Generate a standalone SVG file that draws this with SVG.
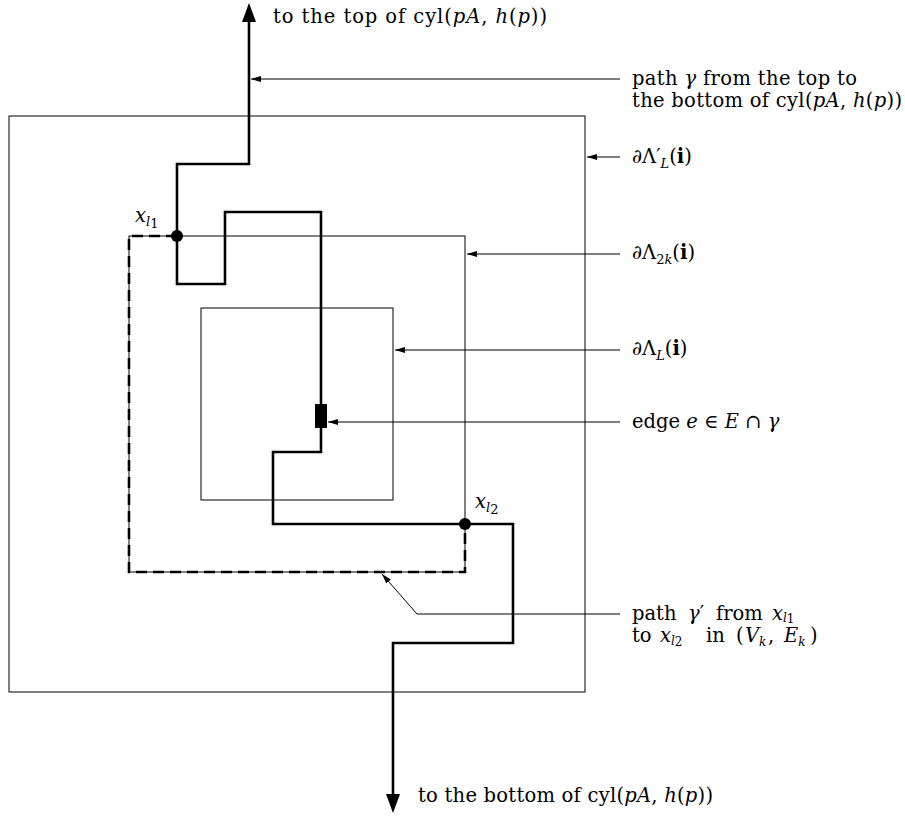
<svg xmlns="http://www.w3.org/2000/svg" width="905" height="817" viewBox="0 0 905 817">
<style>
.thin{fill:none;stroke:#000;stroke-width:1}
.thick{fill:none;stroke:#000;stroke-width:2.6;stroke-linejoin:miter}
.dash{fill:none;stroke:#000;stroke-width:2.6;stroke-dasharray:11 6}
.lead{fill:none;stroke:#000;stroke-width:1}
text{font-family:"DejaVu Serif","Liberation Serif",serif;font-size:19.5px;fill:#000}
.i{font-style:italic}
.b{font-weight:bold}
.s{font-size:13px}
.t{font-size:12px}
</style>
<defs>
<marker id="ah" viewBox="0 0 10 6" refX="10" refY="3" markerWidth="10" markerHeight="6" markerUnits="userSpaceOnUse" orient="auto">
<path d="M0,0 L10,3 L0,6 z" fill="#000"/>
</marker>
</defs>
<g id="box-outer"><rect class="thin" x="9" y="116" width="576" height="576"/></g>
<g id="box-2k"><rect class="thin" x="129" y="236" width="336" height="336"/></g>
<g id="box-inner"><rect class="thin" x="201" y="308" width="192" height="192"/></g>
<g id="connectors">
<path id="gamma" class="thick" d="M249,18 L249,164 L177,164 L177,284 L225,284 L225,212 L321,212 L321,452 L273,452 L273,524 L513,524 L513,643 L393,643 L393,798"/>
<path d="M242,22 L249,3 L256,22 z" fill="#000"/>
<path d="M386,794 L393,813 L400,794 z" fill="#000"/>
<path id="gamma-prime" class="dash" d="M177,236 L129,236 L129,572 L465,572 L465,524"/>
<line class="lead" x1="620" y1="79" x2="251" y2="79" marker-end="url(#ah)"/>
<line class="lead" x1="620" y1="157" x2="587" y2="157" marker-end="url(#ah)"/>
<line class="lead" x1="620" y1="254" x2="467" y2="254" marker-end="url(#ah)"/>
<line class="lead" x1="620" y1="350" x2="395" y2="350" marker-end="url(#ah)"/>
<line class="lead" x1="620" y1="422" x2="328" y2="422" marker-end="url(#ah)"/>
<polyline class="lead" points="620,614 417,614 382,574" marker-end="url(#ah)"/>
</g>
<g id="edge-e"><rect x="315" y="404" width="12" height="24" fill="#000"/></g>
<g id="x-l1"><circle cx="177" cy="236" r="6" fill="#000"/><text x="135" y="222"><tspan class="i">x</tspan><tspan class="i s" dy="4">l</tspan><tspan class="s" dy="2">1</tspan></text></g>
<g id="x-l2"><circle cx="465" cy="524" r="6" fill="#000"/><text x="475" y="508"><tspan class="i">x</tspan><tspan class="i s" dy="4">l</tspan><tspan class="s" dy="2">2</tspan></text></g>
<g id="labels">
<text x="273" y="23" textLength="274" lengthAdjust="spacing">to the top of cyl(<tspan class="i">pA</tspan>, <tspan class="i">h</tspan>(<tspan class="i">p</tspan>))</text>
<text x="632" y="85" textLength="225" lengthAdjust="spacing">path <tspan class="i">γ</tspan> from the top to</text>
<text x="632" y="107" textLength="270" lengthAdjust="spacing">the bottom of cyl(<tspan class="i">pA</tspan>, <tspan class="i">h</tspan>(<tspan class="i">p</tspan>))</text>
<text x="632" y="163">∂Λ′<tspan class="i s" dy="5">L</tspan><tspan dy="-5">(</tspan><tspan class="b">i</tspan>)</text>
<text x="632" y="259">∂Λ<tspan class="s" dy="5">2</tspan><tspan class="i s">k</tspan><tspan dy="-5">(</tspan><tspan class="b">i</tspan>)</text>
<text x="632" y="355">∂Λ<tspan class="i s" dy="5">L</tspan><tspan dy="-5">(</tspan><tspan class="b">i</tspan>)</text>
<text x="632" y="428">edge <tspan class="i">e</tspan> ∈ <tspan class="i">E</tspan> ∩ <tspan class="i">γ</tspan></text>
<text x="632" y="620">path<tspan class="i" x="688">γ</tspan>′<tspan x="716">from</tspan><tspan class="i" x="772">x</tspan><tspan class="i t" dy="2">l</tspan><tspan class="t" dy="1">1</tspan></text>
<text x="632" y="642">to<tspan class="i" x="660">x</tspan><tspan class="i t" dy="3">l</tspan><tspan class="t" dy="1">2</tspan><tspan x="706" dy="-4">in</tspan><tspan x="736">(</tspan><tspan class="i" x="745">V</tspan><tspan class="i t" dy="4">k</tspan><tspan dy="-4" x="768">,</tspan><tspan class="i" x="784">E</tspan><tspan class="i t" dy="4">k</tspan><tspan dy="-4" x="810">)</tspan></text>
<text x="418" y="802" textLength="295" lengthAdjust="spacing">to the bottom of cyl(<tspan class="i">pA</tspan>, <tspan class="i">h</tspan>(<tspan class="i">p</tspan>))</text>
</g>
</svg>
